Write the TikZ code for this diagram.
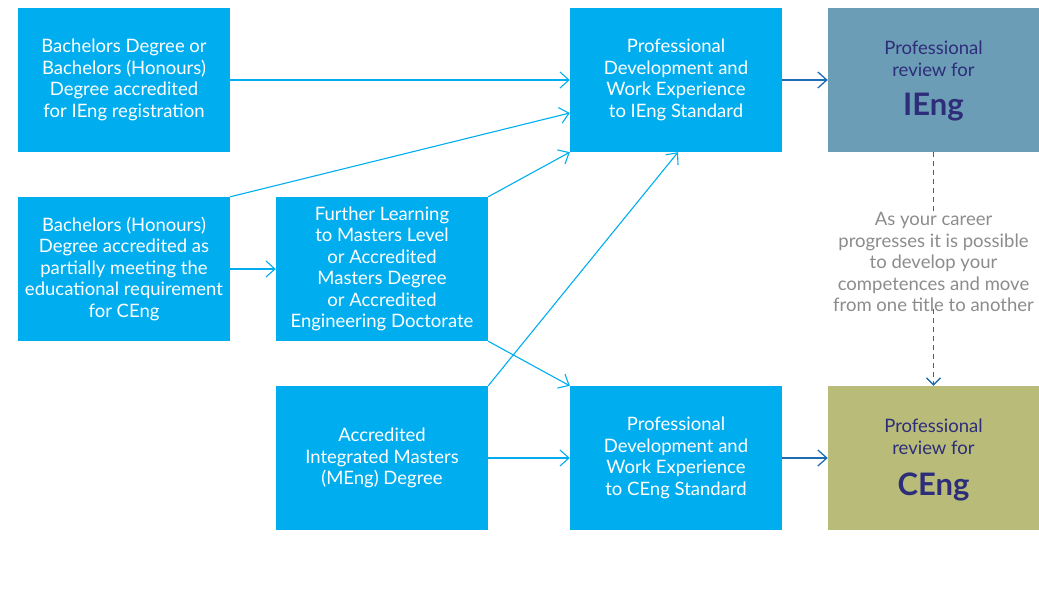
\documentclass[tikz,border=0pt]{standalone}
\usepackage{fontspec}
\setmainfont{Lato}
\usepackage{tikz}
\usetikzlibrary{arrows.meta}

\definecolor{boxblue}{HTML}{00AEEF}
\definecolor{ienggrey}{HTML}{6B9DB6}
\definecolor{cengolive}{HTML}{B8BC78}
\definecolor{titlenavy}{HTML}{2E2D7A}
\definecolor{darkarrow}{HTML}{1E6DB4}
\definecolor{notegrey}{HTML}{8C8C8C}

\begin{document}
\begin{tikzpicture}[x=1pt,y=-1pt]
			\tikzset{route/.style={shape = rectangle, fill = boxblue, text = white, minimum width = 212pt, minimum height = 144pt, align = center, inner sep = 0pt, font = \fontsize{18.5}{21.5}\selectfont}}
			\tikzset{review/.style={shape = rectangle, minimum width = 211pt, minimum height = 144pt, align = center, inner sep = 0pt, text = titlenavy, font = \fontsize{18.5}{21.5}\selectfont}}
			\tikzset{edge/.style={-{Straight Barb[length=9pt, width=16pt]}, draw = boxblue, line width = 1.1pt}}
			\tikzset{darkedge/.style={-{Straight Barb[length=9pt, width=16pt]}, draw = darkarrow, line width = 1.3pt}}
			\tikzset{dashedge/.style={draw = darkarrow, line width = 1.3pt, dash pattern = on 5pt off 4pt}}
			\useasboundingbox (0, 0) rectangle (1039, 593);
			%vertices
			\node[route] (bach) at (124, 80) {Bachelors Degree or\\Bachelors (Honours)\\Degree accredited\\for IEng registration};
			\node[route] (hons) at (124, 269) {Bachelors (Honours)\\Degree accredited as\\partially meeting the\\educational requirement\\for CEng};
			\node[route] (further) at (382, 269) {Further Learning\\to Masters Level\\or Accredited\\Masters Degree\\or Accredited\\Engineering Doctorate};
			\node[route] (meng) at (382, 458) {Accredited\\Integrated Masters\\(MEng) Degree};
			\node[route] (devieng) at (676, 80) {Professional\\Development and\\Work Experience\\to IEng Standard};
			\node[route] (devceng) at (676, 458) {Professional\\Development and\\Work Experience\\to CEng Standard};
			\node[review, fill = ienggrey] (revieng) at (933.5, 80) {};
			\node[review, fill = cengolive] (revceng) at (933.5, 458) {};
			\node[text = titlenavy, align = center, font = \fontsize{18.5}{21.5}\selectfont] (tieng) at (933.5, 59) {Professional\\review for};
			\node[text = titlenavy, font = \fontsize{31}{31}\bfseries\selectfont] (ieng) at (933.5, 107) {IEng};
			\node[text = titlenavy, align = center, font = \fontsize{18.5}{21.5}\selectfont] (tceng) at (933.5, 437) {Professional\\review for};
			\node[text = titlenavy, font = \fontsize{31}{31}\bfseries\selectfont] (ceng) at (933.5, 487) {CEng};
			\node[text = notegrey, align = center, font = \fontsize{18.5}{21.5}\selectfont] (note) at (933.5, 262) {As your career\\progresses it is possible\\to develop your\\competences and move\\from one title to another};
			%edges
			\draw[edge] (bach.east) -- (devieng.west);
			\draw[edge] (hons.north east) -- ([yshift=-33pt]devieng.west);
			\draw[edge] (hons.east) -- (further.west);
			\draw[edge] (further.north east) -- (devieng.south west);
			\draw[edge] (further.south east) -- (devceng.north west);
			\draw[edge] (meng.north east) -- ([xshift=2pt]devieng.south);
			\draw[edge] (meng.east) -- (devceng.west);
			\draw[darkedge] (devieng.east) -- (revieng.west);
			\draw[darkedge] (devceng.east) -- (revceng.west);
			\draw[dashedge] (revieng.south) -- ([yshift=-6pt]note.north);
			\draw[dashedge, -{Straight Barb[length=7pt, width=14pt]}] ([yshift=6pt]note.south) -- (revceng.north);
		\end{tikzpicture}
\end{document}
